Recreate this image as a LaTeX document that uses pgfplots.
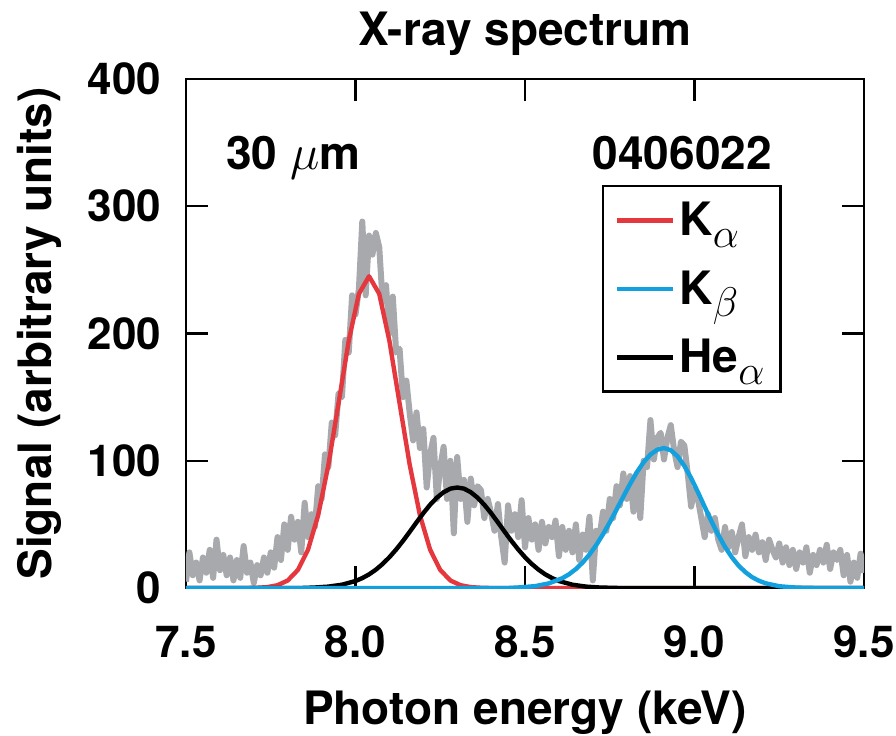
\documentclass[border=0pt]{standalone}
\usepackage{fontspec}
\setmainfont{TeX Gyre Heros}
\usepackage{pgfplots}
\usepackage{pgfplotstable}
\pgfplotsset{compat=1.18}

\definecolor{grayline}{RGB}{167,169,172}
\definecolor{redline}{RGB}{228,56,62}
\definecolor{blueline}{RGB}{18,160,222}
\newcommand{\lbl}{\fontsize{23}{27}\selectfont\bfseries}
\newcommand{\tlbl}{\fontsize{22}{26}\selectfont\bfseries}
\newcommand{\sub}[1]{\raisebox{-6pt}{\fontsize{22}{23}\selectfont$#1$}}

\pgfplotstableread{
x y
7.50 5
7.51 28
7.52 10
7.53 20
7.54 6
7.55 24
7.56 12
7.57 30
7.58 8
7.59 38
7.60 14
7.61 26
7.62 10
7.63 24
7.64 6
7.65 22
7.66 8
7.67 33
7.68 12
7.69 20
7.70 4
7.71 18
7.72 10
7.73 24
7.74 12
7.75 28
7.76 16
7.77 40
7.78 22
7.79 50
7.80 30
7.81 56
7.82 38
7.83 52
7.84 28
7.85 67
7.86 40
7.87 58
7.88 48
7.89 80
7.90 70
7.91 105
7.92 95
7.93 130
7.94 120
7.95 153
7.96 150
7.97 195
7.98 185
7.99 230
8.00 215
8.01 235
8.02 288
8.03 230
8.04 277
8.05 262
8.06 279
8.07 268
8.08 225
8.09 238
8.10 200
8.11 229
8.12 185
8.13 188
8.14 150
8.15 163
8.16 137
8.17 116
8.18 138
8.19 110
8.20 125
8.21 79
8.22 105
8.23 118
8.24 70
8.25 95
8.26 111
8.27 70
8.28 100
8.29 43
8.30 103
8.31 70
8.32 85
8.33 52
8.34 86
8.35 65
8.36 80
8.37 77
8.38 55
8.39 70
8.40 59
8.41 45
8.42 66
8.43 40
8.44 20
8.45 65
8.46 45
8.47 58
8.48 40
8.49 69
8.50 32
8.51 55
8.52 38
8.53 50
8.54 30
8.55 52
8.56 35
8.57 48
8.58 40
8.59 53
8.60 25
8.61 48
8.62 30
8.63 45
8.64 28
8.65 50
8.66 22
8.67 42
8.68 30
8.69 56
8.70 6
8.71 45
8.72 40
8.73 60
8.74 45
8.75 70
8.76 55
8.77 80
8.78 65
8.79 90
8.80 70
8.81 88
8.82 60
8.83 90
8.84 55
8.85 100
8.86 95
8.87 132
8.88 101
8.89 118
8.90 122
8.91 101
8.92 118
8.93 128
8.94 108
8.95 95
8.96 115
8.97 112
8.98 90
8.99 64
9.00 78
9.01 70
9.02 55
9.03 40
9.04 58
9.05 45
9.06 55
9.07 38
9.08 30
9.09 48
9.10 32
9.11 44
9.12 28
9.13 40
9.14 50
9.15 25
9.16 40
9.17 30
9.18 42
9.19 28
9.20 36
9.21 22
9.22 38
9.23 30
9.24 24
9.25 35
9.26 20
9.27 32
9.28 18
9.29 30
9.30 15
9.31 28
9.32 20
9.33 32
9.34 12
9.35 26
9.36 18
9.37 30
9.38 20
9.39 34
9.40 15
9.41 28
9.42 22
9.43 30
9.44 10
9.45 26
9.46 5
9.47 20
9.48 8
9.49 27
9.50 12
}\spectrum

% K-alpha fit
\pgfplotstableread{
x y
7.50 0
7.68 0
7.71 0.2
7.74 0.7
7.77 2.2
7.80 5.9
7.83 14.2
7.86 30.2
7.89 57.3
7.92 96.7
7.95 145.2
7.98 194.2
8.01 231.2
8.04 245
8.07 231.2
8.10 194.2
8.13 145.2
8.16 96.7
8.19 57.3
8.22 30.2
8.25 14.2
8.28 5.9
8.31 2.2
8.34 0.7
8.37 0.2
8.40 0
9.50 0
}\kalpha

% He-alpha fit
\pgfplotstableread{
x y
7.50 0
7.84 0
7.88 0.4
7.92 1.1
7.96 2.6
8.00 5.5
8.02 7.8
8.04 10.7
8.06 14.4
8.08 18.9
8.10 24.2
8.12 30.3
8.14 37.0
8.16 44.2
8.18 51.6
8.20 58.8
8.22 65.4
8.24 71.0
8.26 75.3
8.28 78.1
8.30 79
8.32 78.1
8.34 75.3
8.36 71.0
8.38 65.4
8.40 58.8
8.42 51.6
8.44 44.2
8.46 37.0
8.48 30.3
8.50 24.2
8.52 18.9
8.54 14.4
8.56 10.7
8.58 7.8
8.60 5.5
8.64 2.6
8.68 1.1
8.72 0.4
8.78 0
9.50 0
}\healpha

% K-beta fit
\pgfplotstableread{
x y
7.50 0
8.45 0
8.49 0.6
8.53 1.5
8.57 3.6
8.61 7.7
8.63 10.8
8.65 14.9
8.67 20.0
8.69 26.3
8.71 33.7
8.73 42.2
8.75 51.6
8.77 61.6
8.79 71.8
8.81 81.8
8.83 91.0
8.85 98.9
8.87 104.9
8.89 108.7
8.91 110
8.93 108.3
8.95 103.5
8.97 96.0
8.99 86.4
9.01 75.4
9.03 63.8
9.05 52.4
9.07 41.8
9.09 32.3
9.11 24.2
9.13 17.6
9.15 12.5
9.17 8.5
9.19 5.7
9.21 3.7
9.25 1.4
9.29 0.5
9.33 0.1
9.37 0
9.50 0
}\kbeta

\begin{document}
\begin{tikzpicture}
\begin{axis}[
  name=ax,
  scale only axis,
  width=339pt, height=254.5pt,
  xmin=7.5, xmax=9.5, ymin=0, ymax=400,
  xtick={7.5,8,8.5,9,9.5},
  ytick={0,100,200,300,400},
  xticklabel style={/pgf/number format/fixed,
    /pgf/number format/fixed zerofill,
    /pgf/number format/precision=1},
  /pgf/number format/assume math mode=true,
  tick label style={font=\tlbl},
  xticklabel style={yshift=-15.5pt},
  yticklabel style={xshift=-9pt},
  tick align=inside,
  major tick length=11pt,
  tick style={line width=1.2pt, black},
  axis line style={line width=1.3pt},
  title={X-ray spectrum},
  title style={font=\lbl, yshift=2pt},
  xlabel={Photon energy (keV)},
  ylabel={Signal (arbitrary units)},
  label style={font=\lbl},
  xlabel style={yshift=-9.5pt},
  ylabel style={yshift=6pt},
  legend style={at={(0.6136,0.792)}, anchor=north west,
    draw=black, line width=1.2pt, font=\lbl,
    inner xsep=6pt, inner ysep=6pt, row sep=12pt},
  legend cell align=left,
  legend image code/.code={\draw[#1] (0pt,0pt) -- (28pt,0pt);},
]
\addlegendimage{redline, line width=2.2pt}
\addlegendentry{K\sub{\alpha}}
\addlegendimage{blueline, line width=2.2pt}
\addlegendentry{K\sub{\beta}}
\addlegendimage{black, line width=2.2pt}
\addlegendentry{He\sub{\alpha}}

\addplot[forget plot, grayline, line width=3pt, line join=round] table {\spectrum};
\addplot[forget plot, redline, line width=2.2pt, line join=round] table {\kalpha};
\addplot[forget plot, black, line width=2.2pt, line join=round] table {\healpha};
\addplot[forget plot, blueline, line width=2.2pt, line join=round] table {\kbeta};

\node[font=\lbl, anchor=base west, inner sep=0pt] at (axis cs:7.618,328.5) {30 $\mu$m};
\node[font=\lbl, anchor=base east, inner sep=0pt] at (axis cs:9.229,328.5) {0406022};
\end{axis}
\pgfresetboundingbox
\path ([shift={(-93pt,-73.5pt)}]ax.south west) rectangle ([shift={(16pt,39.5pt)}]ax.north east);
\end{tikzpicture}
\end{document}
